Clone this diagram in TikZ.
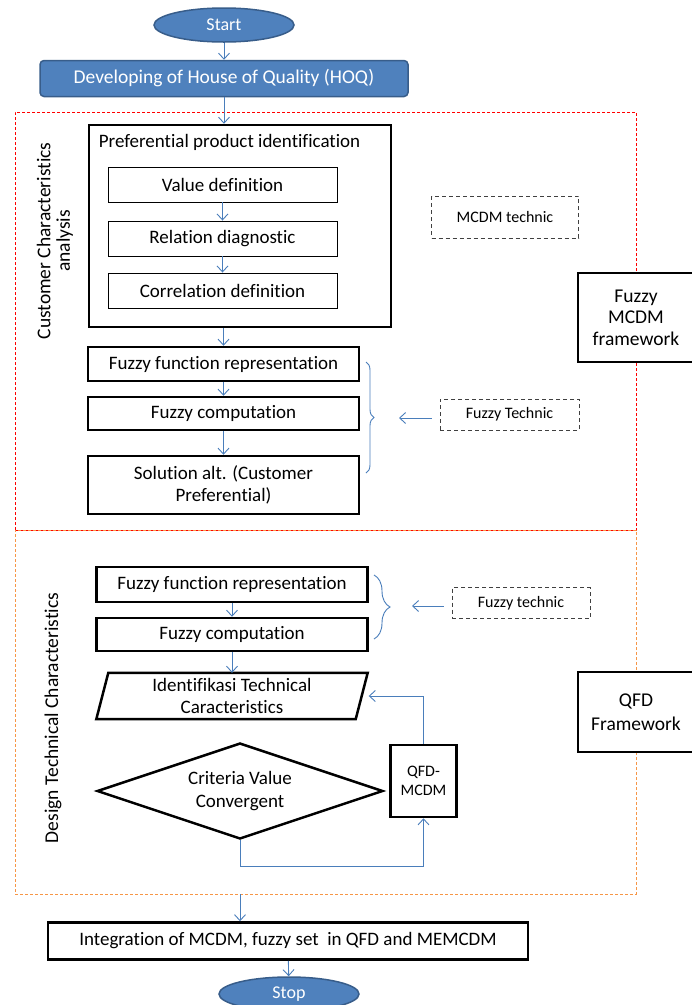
\documentclass[tikz,border=0pt]{standalone}
\usepackage{fontspec}
\setmainfont{Carlito}[Ligatures=NoCommon]
\usetikzlibrary{shapes.geometric,arrows.meta,decorations.pathreplacing}

\definecolor{flowblue}{HTML}{4F81BD}
\definecolor{flowedge}{HTML}{385D8A}
\definecolor{linkblue}{HTML}{4A7EBB}
\definecolor{zoneorange}{HTML}{F79646}

\begin{document}
\begin{tikzpicture}[x=1pt,y=-1pt,
    fnt/.style={font=\fontsize{#1}{#1}\selectfont},
    terminal/.style={ellipse,draw=flowedge,line width=1.5pt,fill=flowblue,text=white,
        minimum width=140pt,minimum height=34pt,inner sep=0pt,fnt=18},
    bluebox/.style={draw=flowedge,line width=1.5pt,fill=flowblue,text=white,rounded corners=4pt,
        minimum width=368pt,minimum height=36pt,inner sep=0pt,fnt=19.5},
    thickbox/.style={draw,line width=2.5pt,fill=white,align=center,inner sep=0pt,fnt=19},
    thinbox/.style={draw,line width=0.9pt,fill=white,inner sep=0pt,
        minimum width=229pt,minimum height=35pt,fnt=19},
    dashbox/.style={draw=black!75,line width=0.9pt,dash pattern=on 4pt off 3pt,inner sep=0pt,fnt=16},
    zone/.style={line width=0.8pt,dash pattern=on 3pt off 2pt,inner sep=0pt,
        minimum width=621pt},
    sidelabel/.style={rotate=90,align=center,fnt=19.5},
    arr/.style={draw=linkblue,line width=0.9pt,-{Straight Barb[length=6pt,width=11pt]}},
    bracket/.style={draw=linkblue,line width=0.9pt,decorate,decoration={brace,amplitude=#1}}]
    \useasboundingbox (0,0) rectangle (692,1005);
    \clip (0,0) rectangle (692,1005);

    %%%%%%%%% Zone %%%%%%%%%%
    \node[zone,draw=red,minimum height=418pt] (custzone) at (325.5,321) {};
    \node[zone,draw=zoneorange,minimum height=364pt] (designzone) at (325.5,712) {};

    %%%%%%%%% Inizio %%%%%%%%%
    \node[terminal] (start) at (224,25) {Start};
    \node[bluebox] (hoq) at (224,78.5) {Developing of House of Quality (HOQ)};

    %%%%%%%%% Customer %%%%%%%%%
    \node[draw,line width=2.5pt,minimum width=302pt,minimum height=202pt,inner sep=0pt] (pref) at (240,226) {};
    \node[fnt=19] (preftitle) at (229.5,142) {Preferential product identification};
    \node[thinbox] (valdef) at (222.5,184.5) {Value definition};
    \node[thinbox] (reldiag) at (222.5,238.5) {Relation diagnostic};
    \node[thinbox] (corrdef) at (222.5,290.5) {Correlation definition};
    \node[thickbox,minimum width=271pt,minimum height=34pt] (ffr1) at (223.5,364) {Fuzzy function representation};
    \node[thickbox,minimum width=271pt,minimum height=33pt] (fc1) at (223.5,413.5) {Fuzzy computation};
    \node[thickbox,minimum width=271pt,minimum height=58pt] (sol) at (223.5,485) {Solution alt. (Customer\\[3pt]Preferential)};

    \node[dashbox,minimum width=147pt,minimum height=42pt] (mcdmtec) at (505,217) {MCDM technic};
    \node[dashbox,minimum width=139pt,minimum height=31pt] (ftec1) at (509.5,414.5) {Fuzzy Technic};
    \node[thickbox,minimum width=116pt,minimum height=89pt,fnt=19.5] (fuzfw) at (636,317.5) {Fuzzy\\[2pt]MCDM\\[2pt]framework};
    \node[sidelabel] (custlbl) at (55,241) {Customer Characteristics\\analysis};

    \draw[arr] (start) -- (hoq);
    \draw[arr] (hoq.south) -- (hoq.south |- pref.north);
    \draw[arr] (valdef) -- (reldiag);
    \draw[arr] (reldiag) -- (corrdef);
    \draw[arr] (ffr1.north |- pref.south) -- (ffr1.north);
    \draw[arr] (ffr1) -- (fc1);
    \draw[arr] (fc1) -- (sol);
    \draw[bracket=8pt] (366,362) -- (366,473);
    \coordinate (tip1) at (399,418);
    \draw[arr] ([xshift=-8pt]ftec1.west |- tip1) -- (tip1);

    %%%%%%%%% Design %%%%%%%%%
    \node[thickbox,minimum width=271pt,minimum height=35pt] (ffr2) at (232,584.5) {Fuzzy function representation};
    \node[thickbox,minimum width=271pt,minimum height=33pt] (fc2) at (232,634.5) {Fuzzy computation};
    \node[align=center,minimum width=259pt,minimum height=46pt,inner sep=0pt,fnt=19] (ident) at (232,696) {Identifikasi Technical\\[3pt]Caracteristics};
    \draw[line width=2.5pt] ([xshift=-6pt]ident.south west) -- ([xshift=6pt]ident.north west)
        -- ([xshift=6pt]ident.north east) -- ([xshift=-6pt]ident.south east) -- cycle;
    \node[diamond,draw,line width=2.5pt,aspect=3,minimum width=286pt,minimum height=96pt,
        inner sep=0pt,align=center,fnt=19] (crit) at (240,791) {Criteria Value\\[4pt]Convergent};
    \node[thickbox,minimum width=66pt,minimum height=72pt,fnt=16] (qfdmcdm) at (423.5,781) {QFD-\\[3pt]MCDM};

    \node[dashbox,minimum width=138pt,minimum height=31pt] (ftec2) at (521,603) {Fuzzy technic};
    \node[thickbox,minimum width=116pt,minimum height=80pt,fnt=19.5] (qfdfw) at (636,712) {QFD\\[4pt]Framework};
    \node[sidelabel] (designlbl) at (53,718) {Design Technical Characteristics};

    \draw[arr] (ffr2) -- (fc2);
    \draw[arr] (fc2) -- (ident);
    \draw[arr] (crit.south) -- ++(0,26) -| (qfdmcdm.south);
    \draw[arr] (qfdmcdm.north) |- ([xshift=7pt]ident.east);
    \draw[bracket=16pt] (374,575) -- (374,639);
    \coordinate (tip2) at (412,606);
    \draw[arr] ([xshift=-8pt]ftec2.west |- tip2) -- (tip2);

    %%%%%%%%% Fine %%%%%%%%%
    \node[thickbox,minimum width=480pt,minimum height=37pt] (integ) at (288,941) {Integration of MCDM, fuzzy set\ \ in QFD and MEMCDM};
    \node[terminal] (stop) at (289,994) {Stop};

    \draw[arr] (designzone.south -| crit.south) -- (integ.north -| crit.south);
    \draw[arr] (integ) -- (stop);
\end{tikzpicture}
\end{document}
